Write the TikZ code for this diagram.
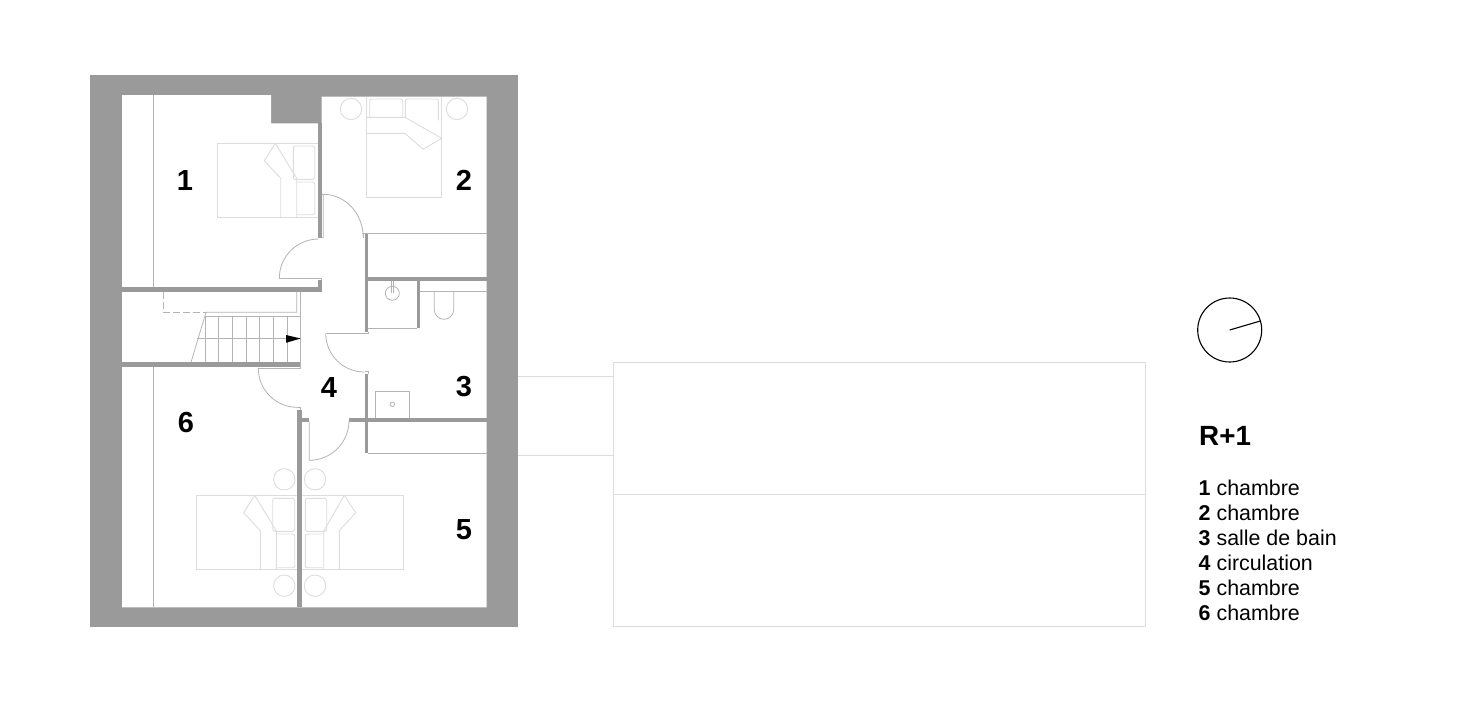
\documentclass[tikz,border=0pt]{standalone}
\usepackage{fontspec}
\setmainfont{Liberation Sans}
\definecolor{wallc}{HTML}{9A9A9A}
\definecolor{linec}{HTML}{B4B4B4}
\definecolor{furn}{HTML}{DDDDDD}
\tikzset{
  wall/.style={fill=wallc,draw=none},
  plan/.style={draw=linec,line width=0.8pt},
  furniture/.style={draw=furn,line width=0.9pt},
  pillow/.style={draw=furn,line width=0.9pt,rounded corners=2pt},
  outline/.style={draw=furn,line width=0.9pt},
  roomnum/.style={font=\bfseries\fontsize{29}{29}\selectfont,text=black,inner sep=0pt},
  legend/.style={font=\fontsize{21.4}{21.4}\selectfont,anchor=base west,inner sep=0pt,text=black},
}
\begin{document}
\begin{tikzpicture}[x=1pt,y=-1pt]
\useasboundingbox (0,0) rectangle (1468,710);
% shell
\fill[wallc] (90,75) rectangle (517.7,626.7);
\fill[white] (122,95) -- (271,95) -- (271,123.3) -- (321.7,123.3) -- (321.7,96.7) -- (486.7,96.7) -- (486.7,607.3) -- (122,607.3) -- cycle;
% walls
\fill[wall] (318.3,123.3) rectangle (321.7,238);
\fill[wall] (318.3,280) rectangle (321.7,291.7);
\fill[wall] (122,287.3) rectangle (321.7,291.7);
\fill[wall] (122,362.3) rectangle (300.7,366.7);
\fill[wall] (364.5,233.3) rectangle (368,332);
\fill[wall] (364.5,374) rectangle (368,453.3);
\fill[wall] (368,277.3) rectangle (486.7,280.7);
\fill[wall] (416.7,280.7) rectangle (420,328.3);
\fill[wall] (349,418.3) rectangle (486.7,421.7);
\fill[wall] (302.3,418.3) rectangle (309.3,421.7);
\fill[wall] (297.3,410) rectangle (302.3,607.3);
% plan lines
\draw[plan] (153.3,95) -- (153.3,287.3);
\draw[plan] (153.3,366.7) -- (153.3,607.3);
\draw[plan] (362.3,233.3) -- (486.7,233.3);
\draw[plan] (368,453.3) -- (486.7,453.3);
\draw[plan] (368,328.3) -- (416.7,328.3);
\draw[plan] (420,291.3) -- (486.7,291.3);
% doors (y axis runs downward, so angle 90 points down the page)
\draw[plan] (363.3,237.7) arc[start angle=0,end angle=-90,x radius=40,y radius=43.4] -- (323.3,237.7) -- (321.7,237.7);
\draw[plan] (321.7,194.3) -- (323.3,194.3);
\draw[plan] (279.3,278.3) arc[start angle=180,end angle=270,radius=39.3];
\draw[plan] (279.3,278.3) -- (321.7,278.3) -- (321.7,280);
\draw[plan] (325.7,333.3) -- (368,333.3) -- (368,332);
\draw[plan] (325.7,333.3) arc[start angle=180,end angle=90,radius=38.7];
\draw[plan] (258.3,368.3) -- (300.7,368.3);
\draw[plan] (258.3,368.3) arc[start angle=180,end angle=90,radius=39];
\draw[plan] (309.3,421.7) -- (309.3,460.3) arc[start angle=90,end angle=0,radius=39.7];
\draw[plan] (297.3,407.3) -- (300,407.3) -- (300,410);
\draw[plan] (364.5,371.7) -- (368,371.7) -- (368,374);
\draw[plan] (363.3,237.7) -- (363.3,233.3);
\draw[plan] (300.7,362.3) -- (300.7,368.3);
% stairs
\draw[plan] (296.7,291.7) -- (296.7,312.3) -- (206,312.3) -- (191,362.3);
\draw[plan] (300.7,291.7) -- (300.7,366.7);
\draw[plan] (206,316.3) -- (300.7,316.3);
\draw[plan,dash pattern=on 7pt off 3pt] (163.3,291.7) -- (163.3,312.3) -- (206,312.3);
\foreach \tx in {205.3,218.7,232.3,246,259.7,273.3,287.3}
  \draw[plan] (\tx,316.3) -- (\tx,362.3);
\draw[plan] (197,338.4) -- (300.7,338.4);
\fill[black] (300.7,338.5) -- (286,335) -- (286,342.8) -- cycle;
% bed 1
\draw[outline] (318.3,143.3) -- (217.3,143.3) -- (217.3,217.3) -- (318.3,217.3);
\draw[furniture] (280.7,217.3) -- (280.7,178.3) -- (264.3,160.7) -- (275.3,143.3) -- (296.7,178.3) -- (296.7,217.3);
\draw[pillow] (293.3,146) rectangle (314.7,179.3);
\draw[pillow] (296.7,182) -- (314.7,182) -- (314.7,214.7) -- (296.7,214.7);
% bed 2
\draw[outline] (366.7,96.7) -- (366.7,197.3) -- (441.7,197.3) -- (441.7,96.7);
\draw[furniture] (366.7,117.3) -- (405,117.3) -- (441.7,138.3) -- (423,149.3) -- (405,133.3) -- (366.7,133.3);
\draw[pillow] (369.7,117.3) -- (369.7,99) -- (402.7,99) -- (402.7,117.3);
\draw[pillow] (405.3,117.3) -- (405.3,99) -- (438.3,99) -- (438.3,120.3);
\draw[furniture] (351,109) circle[radius=10.7];
\draw[furniture] (457,109) circle[radius=10.7];
% bed 6
\draw[outline] (297.3,495.3) -- (196.3,495.3) -- (196.3,569.3) -- (297.3,569.3);
\draw[furniture] (260.3,569.3) -- (260.3,530.7) -- (243.7,512.7) -- (254.7,495.3) -- (276.3,531) -- (276.3,569.3);
\draw[pillow] (272.7,498.3) rectangle (294.7,531.3);
\draw[pillow] (276.3,534) -- (294.7,534) -- (294.7,567.7) -- (276.3,567.7);
\draw[furniture] (284.3,479.3) circle[radius=10.7];
\draw[furniture] (284.3,585.7) circle[radius=10.7];
% bed 5
\draw[outline] (302.3,495.3) -- (403.7,495.3) -- (403.7,569.3) -- (302.3,569.3);
\draw[furniture] (339.3,569.3) -- (339.3,530.7) -- (355.7,512.7) -- (344.3,495.3) -- (323.7,531) -- (323.7,569.3);
\draw[pillow] (305.3,498.3) rectangle (326.7,531.3);
\draw[pillow] (323.7,534) -- (305.3,534) -- (305.3,567.7) -- (323.7,567.7);
\draw[furniture] (315,479.3) circle[radius=10.7];
\draw[furniture] (315,585.7) circle[radius=10.7];
% bathroom fittings
\draw[plan] (392.3,293.3) circle[radius=7];
\draw[plan] (391.3,280.7) -- (391.3,293.3) (393.3,280.7) -- (393.3,293.3);
\draw[plan] (434.3,291.3) -- (434.3,309.6) arc[start angle=180,end angle=0,radius=9.7] -- (453.7,291.3);
\draw[plan] (375.3,418.3) -- (375.3,391.3) -- (409.3,391.3) -- (409.3,418.3);
\draw[plan] (392.3,404.3) circle[radius=2.3];
% room numbers
\node[roomnum] (n1) at (185,180.5) {1};
\node[roomnum] (n2) at (464,180.5) {2};
\node[roomnum] (n3) at (464,387) {3};
\node[roomnum] (n4) at (329,388) {4};
\node[roomnum] (n5) at (464,530) {5};
\node[roomnum] (n6) at (186,422.5) {6};
% outline of the neighbouring volume
\draw[outline] (613,362) rectangle (1145,626.5);
\draw[outline] (613,494.5) -- (1145,494.5);
\draw[outline] (517.7,376) -- (613,376);
\draw[outline] (517.7,455.5) -- (613,455.5);
% compass
\draw[black,line width=1.1pt] (1229.7,330) circle[radius=32];
\draw[black,line width=1.1pt] (1229.7,330) -- (1260.3,321);
% legend
\node[anchor=base west,inner sep=0pt,font=\bfseries\fontsize{27.8}{27.8}\selectfont] (title) at (1199,445.7) {R+1};
\node[legend] (l1) at (1198.5,495) {\textbf{1} chambre};
\node[legend] (l2) at (1198.5,520) {\textbf{2} chambre};
\node[legend] (l3) at (1198.5,545) {\textbf{3} salle de bain};
\node[legend] (l4) at (1198.5,570) {\textbf{4} circulation};
\node[legend] (l5) at (1198.5,595) {\textbf{5} chambre};
\node[legend] (l6) at (1198.5,620) {\textbf{6} chambre};
\end{tikzpicture}
\end{document}
